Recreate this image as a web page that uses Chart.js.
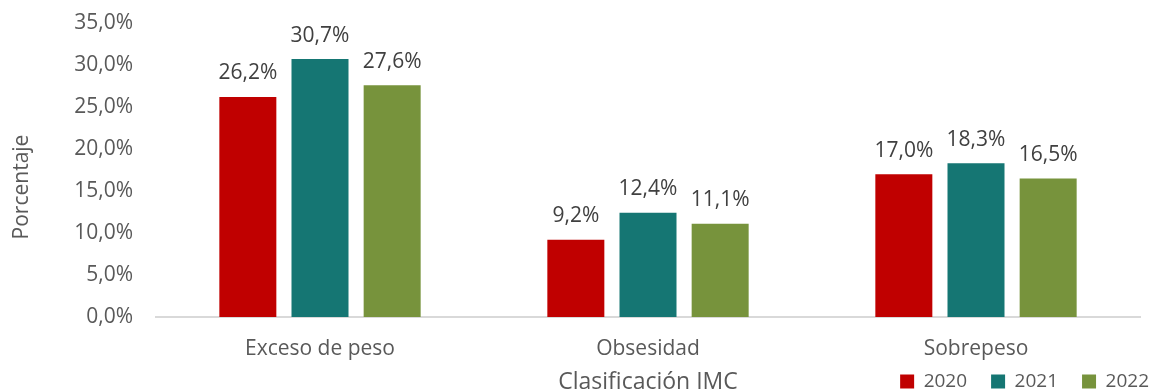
<!DOCTYPE html>
<html>
<head>
<meta charset="utf-8">
<script src="https://cdn.jsdelivr.net/npm/chart.js@4"></script>
<style>
  html, body { margin: 0; padding: 0; background: #fff; }
  #wrap { width: 1150px; height: 392px; }
</style>
</head>
<body>
<div id="wrap"><canvas id="chart"></canvas></div>
<script>
// datos por clasificacion IMC
const categorias = ['Exceso de peso', 'Obsesidad', 'Sobrepeso'];
const anios = ['2020', '2021', '2022'];
const valores2020 = [26.2, 9.2, 17.0];
const valores2021 = [30.7, 12.4, 18.3];
const valores2022 = [27.6, 11.1, 16.5];
const colores = ['#C00000', '#157673', '#77933C'];

const FONT = "'Open Sans', sans-serif";

function pct(v) {
    return v.toFixed(1).replace('.', ',') + '%';
}

// etiquetas de valor encima de cada barra
const etiquetas = {
    id: 'etiquetas',
    afterDatasetsDraw(chart) {
        const ctx = chart.ctx;
        ctx.save();
        ctx.font = '21px ' + FONT;
        ctx.fillStyle = '#404040';
        ctx.textAlign = 'center';
        ctx.textBaseline = 'bottom';
        chart.data.datasets.forEach((ds, i) => {
            chart.getDatasetMeta(i).data.forEach((bar, j) => {
                ctx.fillText(pct(ds.data[j]), bar.x, bar.y - 13);
            });
        });
        ctx.restore();
    }
};

// titulo del eje Y, un poco por debajo del centro como en Excel
const tituloY = {
    id: 'tituloY',
    afterDraw(chart) {
        const ctx = chart.ctx;
        ctx.save();
        ctx.translate(22, 187);
        ctx.rotate(-Math.PI / 2);
        ctx.font = '21px ' + FONT;
        ctx.fillStyle = '#595959';
        ctx.textAlign = 'center';
        ctx.textBaseline = 'middle';
        ctx.fillText('Porcentaje', 0, 0);
        ctx.restore();
    }
};

// leyenda abajo a la derecha, en la misma linea que el titulo del eje X
const moverLeyenda = {
    id: 'moverLeyenda',
    afterLayout(chart) {
        const lg = chart.legend;
        lg.left += 33;
        lg.right += 33;
        lg.top -= 15;
        lg.bottom -= 15;
    }
};

let ctx = document.getElementById('chart').getContext('2d');
let myChart = new Chart(ctx, {
    type: 'bar',
    data: {
        labels: categorias,
        datasets: [
            { label: anios[0], data: valores2020, backgroundColor: colores[0] },
            { label: anios[1], data: valores2021, backgroundColor: colores[1] },
            { label: anios[2], data: valores2022, backgroundColor: colores[2] }
        ]
    },
    options: {
        responsive: true,
        maintainAspectRatio: false,
        animation: false,
        categoryPercentage: 0.66,
        barPercentage: 0.79,
        layout: { padding: { top: 23, right: 10, left: 0, bottom: -24 } },
        scales: {
            x: {
                grid: { display: false },
                border: { display: true, color: '#D9D9D9', width: 2 },
                ticks: { color: '#595959', font: { family: FONT, size: 21 }, padding: 11 },
                title: {
                    display: true,
                    text: 'Clasificación IMC',
                    color: '#595959',
                    font: { family: FONT, size: 23 },
                    padding: { top: 0, bottom: -33 }
                },
                afterFit(scale) { scale.height = 46; }
            },
            y: {
                min: 0,
                max: 35,
                grid: { display: false },
                border: { display: false },
                ticks: {
                    stepSize: 5,
                    color: '#595959',
                    font: { family: FONT, size: 21 },
                    padding: 15,
                    callback: v => pct(v)
                },
                afterFit(scale) {
                    scale.width = 156;
                    scale.paddingTop = 0;
                    scale.paddingBottom = 0;
                }
            }
        },
        plugins: {
            legend: {
                position: 'bottom',
                align: 'end',
                labels: {
                    color: '#595959',
                    font: { family: FONT, size: 19 },
                    boxWidth: 14,
                    boxHeight: 14,
                    padding: 24
                }
            },
            tooltip: { enabled: false }
        }
    },
    plugins: [etiquetas, tituloY, moverLeyenda]
});
</script>
</body>
</html>
